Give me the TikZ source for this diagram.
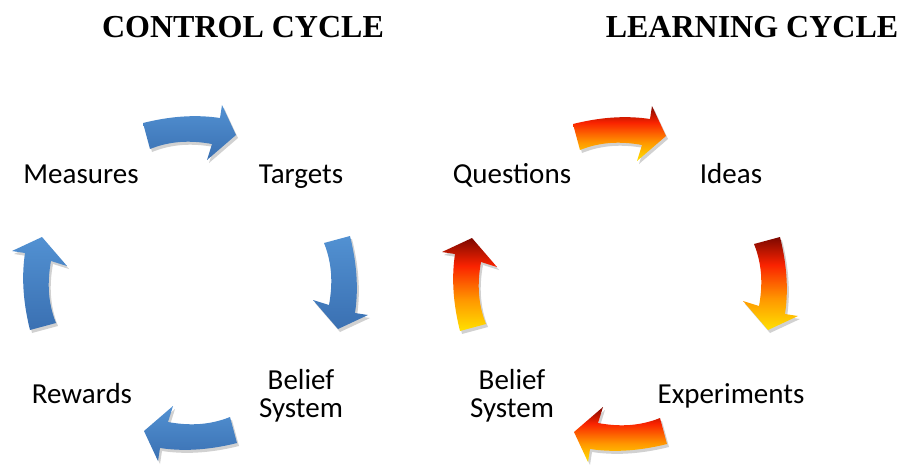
\documentclass[tikz,border=0pt]{standalone}
\usepackage{fontspec}
\setmainfont{Carlito}
\newfontfamily\titlefont{Liberation Serif}
\usepackage{tikz}

\definecolor{ctlTop}{RGB}{82,145,210}
\definecolor{ctlBot}{RGB}{58,112,178}
\definecolor{fireDark}{RGB}{125,8,0}
\definecolor{fireRed}{RGB}{250,35,0}
\definecolor{fireOrange}{RGB}{255,150,0}
\definecolor{fireYellow}{RGB}{255,225,0}
\pgfdeclareverticalshading{fire}{100bp}{color(0bp)=(fireYellow); color(25bp)=(fireYellow); color(42bp)=(fireOrange); color(60bp)=(fireRed); color(75bp)=(fireDark); color(100bp)=(fireDark)}

\begin{document}
\begin{tikzpicture}[x=1pt, y=-1pt,
    lbl/.style={font=\fontsize{29}{28}\selectfont, anchor=base, align=center},
    title/.style={font=\titlefont\bfseries\fontsize{32}{32}\selectfont, anchor=base},
    ctlarrow/.style={top color=ctlTop, bottom color=ctlBot},
    firearrow/.style={shading=fire},
    arrowshadow/.style={fill=black, opacity=.18},
    cyclearrow/.pic={
      \path[#1] (-47,-160) .. controls (-15,-168) and (10,-168) .. (30,-165)
        -- (32,-178) -- (46,-148) -- (17,-123) -- (22,-139)
        .. controls (0,-143) and (-20,-142) .. (-40,-134) -- cycle;
    }]
    \useasboundingbox (0,0) rectangle (903,464);

    \coordinate (ctl) at (190,283);
    \coordinate (lrn) at (620,284);

    % titles
    \node[title] (ctltitle) at (243,37) {CONTROL CYCLE};
    \node[title] (lrntitle) at (752,37) {LEARNING CYCLE};

    % arrows
    \foreach \ang in {0,-90,-180,-270} {
      \pic[rotate=\ang] at ([shift={(2,3)}]ctl) {cyclearrow=arrowshadow};
      \pic[rotate=\ang] at (ctl) {cyclearrow=ctlarrow};
      \pic[rotate=\ang] at ([shift={(2,3)}]lrn) {cyclearrow=arrowshadow};
      \pic[rotate=\ang] at (lrn) {cyclearrow=firearrow};
    }

    % control cycle
    \node[lbl] (measures) at (81,183) {Measures};
    \node[lbl] (targets) at (301,183) {Targets};
    \node[lbl] (ctlbelief) at (301,417) {Belief\\System};
    \node[lbl] (rewards) at (82,403) {Rewards};

    % learning cycle
    \node[lbl] (questions) at (512,183) {Questions};
    \node[lbl] (ideas) at (731,183) {Ideas};
    \node[lbl] (experiments) at (731,403) {Experiments};
    \node[lbl] (lrnbelief) at (512,417) {Belief\\System};
\end{tikzpicture}
\end{document}
